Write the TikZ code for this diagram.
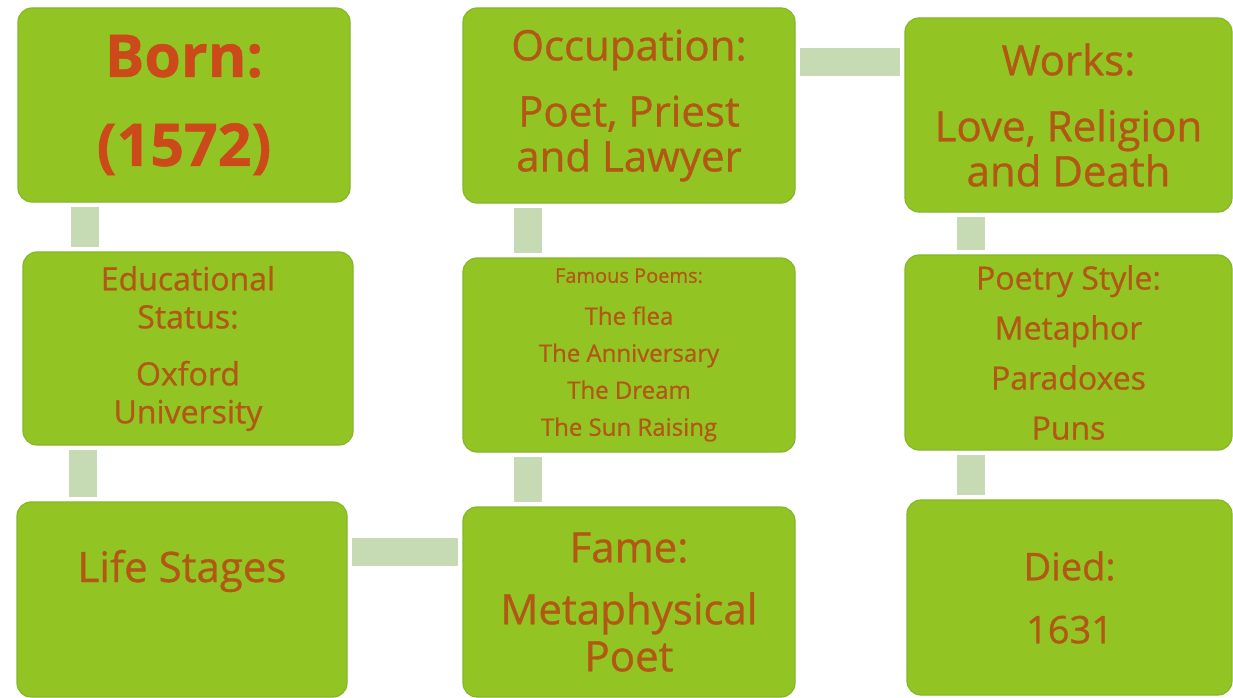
\documentclass[tikz,border=0pt]{standalone}
\usepackage{fontspec}
\setmainfont{Open Sans}[FakeBold=0.8]
\usepackage{tikz}
\usetikzlibrary{calc,positioning}
\usepackage{xcolor}

\definecolor{boxgreen}{RGB}{146,197,36}
\definecolor{boxedge}{RGB}{132,182,40}
\definecolor{linkgreen}{RGB}{198,219,180}
\definecolor{bornred}{RGB}{204,74,26}
\definecolor{txtbrown}{RGB}{178,88,20}

\tikzset{
  box/.style={fill=boxgreen, draw=boxedge, line width=1.2pt, rounded corners=14pt,
    align=center, text=txtbrown, inner sep=0pt},
  link/.style={linkgreen, line width=28pt, shorten <=4pt, shorten >=4pt}
}

\begin{document}
\begin{tikzpicture}[x=1pt,y=-1pt]
\useasboundingbox (0,0) rectangle (1233,698);

% Left column
\node[box, minimum width=332pt, minimum height=194pt, text=bornred,
  font=\fontsize{59}{64}\selectfont\bfseries] (born) at (184,105) {Born:\\[25pt](1572)};
\node[box, minimum width=330pt, minimum height=193pt,
  font=\fontsize{32}{38}\selectfont] (edu) at (188,348.5) {Educational\\Status:\\[19pt]Oxford\\University};
\node[box, minimum width=330pt, minimum height=195pt, text height=32pt, text depth=67pt,
  font=\fontsize{42}{45}\selectfont] (life) at (182,599.5) {Life Stages};

% Middle column
\node[box, minimum width=332pt, minimum height=195pt,
  font=\fontsize{42}{45}\selectfont] (occ) at (629,105.5) {Occupation:\\[21pt]Poet, Priest\\and Lawyer};
\node[box, minimum width=332pt, minimum height=194pt,
  font=\fontsize{24}{37}\selectfont] (poems) at (629,355)
  {{\fontsize{20}{24}\selectfont Famous Poems:}\\[5pt]The flea\\The Anniversary\\The Dream\\The Sun Raising};
\node[box, minimum width=332pt, minimum height=190pt,
  font=\fontsize{42}{47}\selectfont] (fame) at (629,602) {Fame:\\[15pt]Metaphysical\\Poet};

% Right column
\node[box, minimum width=327pt, minimum height=194pt,
  font=\fontsize{42}{45}\selectfont] (works) at (1068.5,115) {Works:\\[21pt]Love, Religion\\and Death};
\node[box, minimum width=327pt, minimum height=195pt,
  font=\fontsize{32}{50}\selectfont] (style) at (1068.5,352.5) {Poetry Style:\\Metaphor\\Paradoxes\\Puns};
\node[box, minimum width=325pt, minimum height=195pt,
  font=\fontsize{38}{44}\selectfont] (died) at (1069.5,597.5) {Died:\\[19pt]1631};

% Vertical links
\foreach \a/\b/\dx in {born/edu/68, edu/life/61, occ/poems/66, poems/fame/66, works/style/67, style/died/67} {
    \draw[link] ($(\a.south west)+(\dx,0)$) -- ($(\a.south west |- \b.north)+(\dx,0)$);
}

% Horizontal links
\foreach \a/\b/\dy in {life/fame/50.5, occ/works/54.5} {
    \draw[link] ($(\a.north east)+(0,\dy)$) -- ($(\a.north east -| \b.west)+(0,\dy)$);
}

\end{tikzpicture}
\end{document}
